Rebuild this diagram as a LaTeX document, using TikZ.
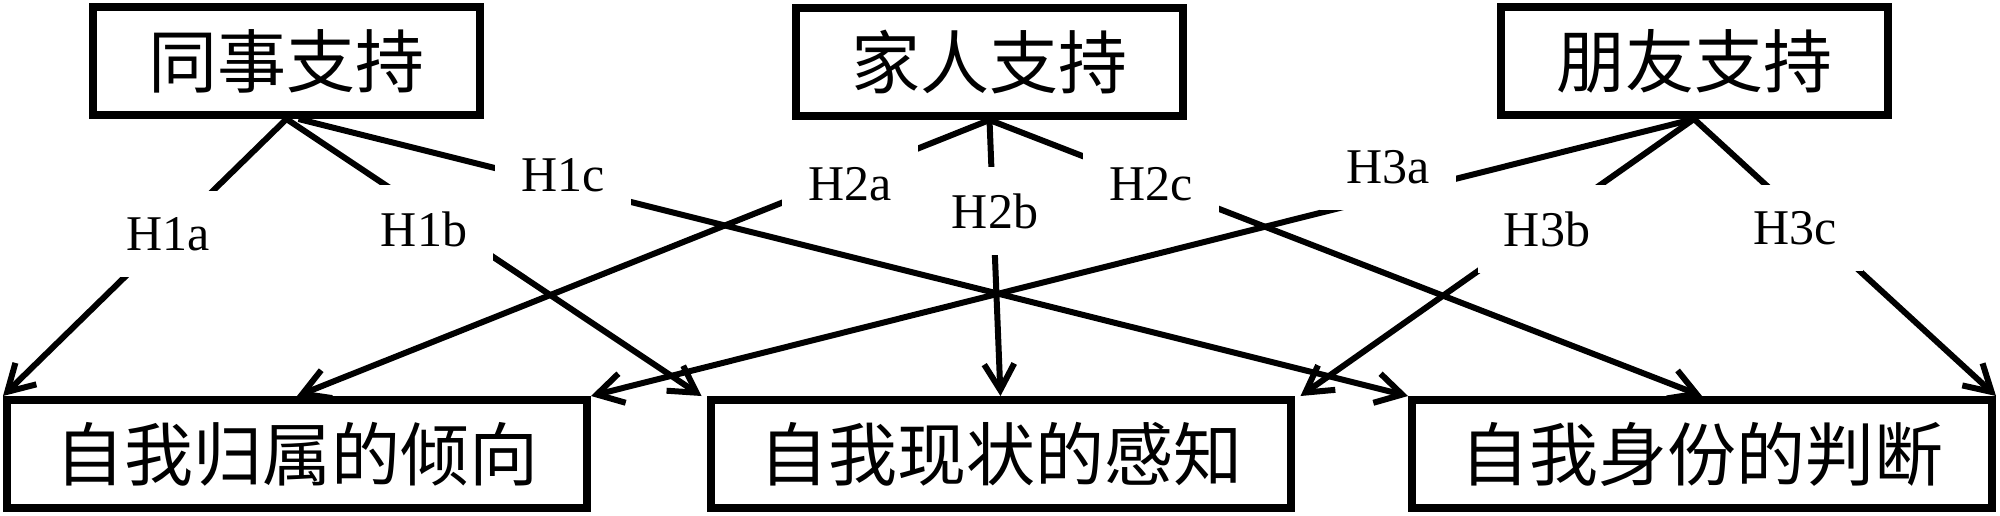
\documentclass[tikz,border=0pt]{standalone}
\usepackage{fontspec}
\setmainfont{Liberation Serif}
\newfontfamily\cjk{Noto Sans CJK SC}
\usetikzlibrary{arrows.meta}
\begin{document}
\begin{tikzpicture}[x=1pt,y=-1pt,
  box/.style={draw, line width=8pt, minimum width=387pt, minimum height=108pt, inner sep=0pt,
              font=\cjk\fontsize{69}{69}\selectfont},
  widebox/.style={box, minimum width=580pt},
  conn/.style={line width=6pt},
  arr/.style={conn, -{Straight Barb[length=26pt,width=30pt]}},
  lab/.style={fill=white, inner sep=26pt, font=\fontsize{50}{50}\selectfont}]
\useasboundingbox (0,0) rectangle (2000,516);
% top boxes
\node[box] (t1) at (286.5,61) {同事支持};
\node[box] (t2) at (989.5,62) {家人支持};
\node[box] (t3) at (1694,61) {朋友支持};
% bottom boxes
\node[widebox] (b1) at (297,454) {自我归属的倾向};
\node[widebox] (b2) at (1000.5,454) {自我现状的感知};
\node[widebox] (b3) at (1702,454) {自我身份的判断};
% connectors
\draw[arr] (t1.south) -- (b1.north west);
\draw[arr] (t1.south) -- ([xshift=-5pt]b2.north west);
\draw[arr] ([xshift=12pt]t1.south) -- (b3.north west);
\draw[arr] (t2.south) -- (b1.north);
\draw[arr] (t2.south) -- (b2.north);
\draw[arr] (t2.south) -- (b3.north);
\draw[arr] (t3.south) -- (b1.north east);
\draw[arr] (t3.south) -- ([xshift=6pt]b2.north east);
\draw[arr] (t3.south) -- (b3.north east);
% labels
\node[lab] (h1a) at (168,234) {H1a};
\node[lab] (h1b) at (424,229) {H1b};
\node[lab] (h1c) at (563,175) {H1c};
\node[lab] (h2a) at (850,184) {H2a};
\node[lab] (h2b) at (995,211) {H2b};
\node[lab] (h2c) at (1151,184) {H2c};
\node[lab] (h3a) at (1388,167) {H3a};
\node[lab] (h3b) at (1547,229) {H3b};
\node[lab] (h3c) at (1795,228) {H3c};
\end{tikzpicture}
\end{document}
